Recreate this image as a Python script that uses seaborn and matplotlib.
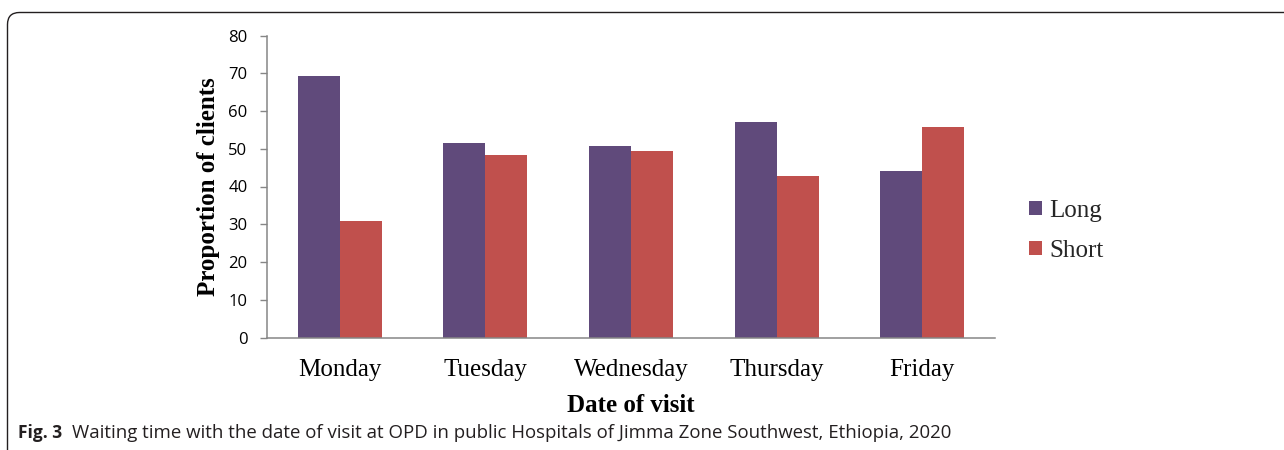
import matplotlib
matplotlib.use("Agg")
import matplotlib.pyplot as plt
import seaborn as sns
import pandas as pd
from matplotlib.path import Path
from matplotlib.patches import PathPatch
from matplotlib.transforms import IdentityTransform

# ---- data ----
days = ["Monday", "Tuesday", "Wednesday", "Thursday", "Friday"]
long_vals = [69.2, 51.6, 50.6, 57.1, 44.2]
short_vals = [30.8, 48.4, 49.4, 42.9, 55.8]
series_names = ["Long", "Short"]
y_ticks = [0, 10, 20, 30, 40, 50, 60, 70, 80]
x_title = "Date of visit"
y_title = "Proportion of clients"
cap_bold = "Fig. 3"
cap_text = "Waiting time with the date of visit at OPD in public Hospitals of Jimma Zone Southwest, Ethiopia, 2020"

df = pd.DataFrame({
    "day": days * 2,
    "value": long_vals + short_vals,
    "type": [series_names[0]] * len(days) + [series_names[1]] * len(days),
})

sns.set_theme(style="white")
plt.rcParams["font.family"] = ["DejaVu Sans"]

W, H = 1284, 450
fig = plt.figure(figsize=(W / 100, H / 100), dpi=100)
ax = fig.add_axes([267 / W, 1 - 337.5 / H, 728 / W, (337.5 - 35.5) / H])

sns.barplot(data=df, x="day", y="value", hue="type", order=days,
            hue_order=series_names, palette=["#604A7B", "#C0504D"],
            saturation=1, width=0.577, ax=ax, edgecolor="none")

ax.set_xlim(-0.5, len(days) - 0.5)
ax.set_ylim(0, 80)
ax.set_yticks(y_ticks)
serif = "Liberation Serif"
ax.set_yticklabels([str(t) for t in y_ticks], family="Open Sans", fontsize=12, color="black")
ax.set_xticks(range(len(days)))
ax.set_xticklabels(days, family=serif, fontsize=18, color="black")
ax.tick_params(axis="y", length=5, width=1, color="#868686", pad=9, left=True, direction="out")
ax.tick_params(axis="x", length=0, pad=15.5)

for s in ["top", "right"]:
    ax.spines[s].set_visible(False)
for s in ["left", "bottom"]:
    ax.spines[s].set_color("#868686")
    ax.spines[s].set_linewidth(1.1)

ax.set_xlabel(x_title, family=serif, fontsize=18, fontweight="bold", labelpad=9, color="black")
ax.set_ylabel(y_title, family=serif, fontsize=18, fontweight="bold", labelpad=6, color="black")

handles, labels = ax.get_legend_handles_labels()
ax.legend(handles, labels, loc="center left", bbox_to_anchor=(1029 / W, 1 - 231 / H),
          bbox_transform=fig.transFigure, frameon=False,
          prop={"family": serif, "size": 18}, handlelength=0.5, handleheight=0.5,
          handletextpad=0.3, labelspacing=0.71, borderaxespad=0, borderpad=0)

# ---- outer frame (rounded top-left corner) ----
r = 12
x0, y0 = 7.5, H - 12.5  # display coords (origin bottom-left)
verts = [(x0, -5), (x0, y0 - r), (x0, y0), (x0 + r, y0), (W + 5, y0)]
codes = [Path.MOVETO, Path.LINETO, Path.CURVE3, Path.CURVE3, Path.LINETO]
frame = PathPatch(Path(verts, codes), transform=IdentityTransform(), fill=False,
                  edgecolor="#231F20", linewidth=1.0)
fig.patches.append(frame)

# ---- caption ----
renderer = fig.canvas.get_renderer()
cy = 1 - 433 / H
t1 = fig.text(18 / W, cy, cap_bold, family="Open Sans", fontweight="bold",
              fontsize=12.5, va="center", ha="left", color="#231F20")
bb = t1.get_window_extent(renderer=renderer)
t2 = fig.text((bb.x1 + 10) / W, cy, cap_text, family="Open Sans",
              fontsize=12.5, va="center", ha="left", color="#231F20")
bb2 = t2.get_window_extent(renderer=renderer)
target = 954 - (bb.x1 + 10)
t2.set_fontsize(12.5 * target / bb2.width)

fig.savefig("out.png", dpi=100)
